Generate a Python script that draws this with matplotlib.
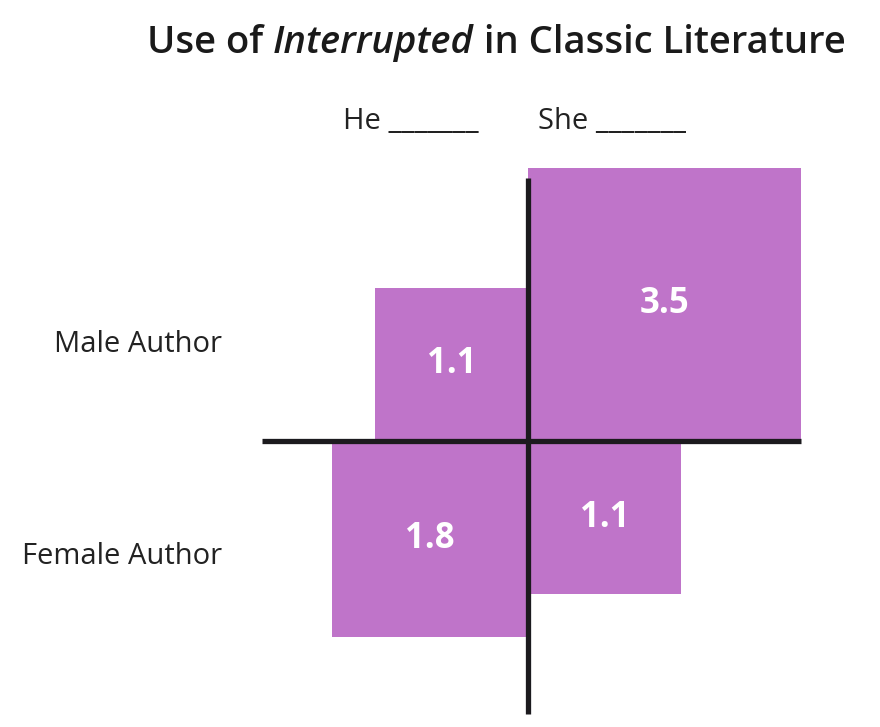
import numpy as np
import matplotlib
matplotlib.use("Agg")
from matplotlib import pyplot as plt
from matplotlib.patches import Rectangle

# data
rows = ["Male Author", "Female Author"]
cols = ["He", "She"]
values = [[1.1, 3.5],
          [1.8, 1.1]]

purple = "#bf74c9"
ink = "#1c1a1e"
plt.rcParams["font.family"] = ["Open Sans", "DejaVu Sans"]

W, H = 880, 727
fig = plt.figure(figsize=(W / 100, H / 100), dpi=100)
ax = fig.add_axes([0, 0, 1, 1])

# pixel layout: cross centre and pixels per sqrt-unit
cx, cy = 528, 441
k = 146.0
ax.set_xlim(-cx / k, (W - cx) / k)
ax.set_ylim(-(H - cy) / k, cy / k)
ax.axis("off")

for i, r in enumerate(rows):
    for j, c in enumerate(cols):
        s = np.sqrt(values[i][j])
        x0 = -s if j == 0 else 0
        y0 = 0 if i == 0 else -s
        ax.add_patch(Rectangle((x0, y0), s, s, facecolor=purple, edgecolor="none", zorder=1))
        ax.text(x0 + s / 2, y0 + s / 2, f"{values[i][j]:.1f}", color="white",
                fontsize=25, fontweight="bold", ha="center", va="center", zorder=3)

# cross
smax = np.sqrt(max(max(v) for v in values))
ax.plot([-(cx - 262) / k, smax], [0, 0], color=ink, lw=3.8, zorder=2,
        solid_capstyle="butt")
ax.plot([0, 0], [-(714 - cy) / k, (cy - 178) / k], color=ink, lw=3.8, zorder=2,
        solid_capstyle="butt")

# row labels
ax.text((222 - cx) / k, (cy - 345) / k, rows[0], fontsize=21, color="#222222",
        ha="right", va="center")
ax.text((222 - cx) / k, (cy - 556) / k, rows[1], fontsize=21, color="#222222",
        ha="right", va="center")

# column labels
ax.text((343 - cx) / k, (cy - 122) / k, cols[0] + " _______", fontsize=21,
        color="#222222", ha="left", va="center")
ax.text((538 - cx) / k, (cy - 122) / k, cols[1] + " _______", fontsize=21,
        color="#222222", ha="left", va="center")

# title with italic word, laid out piece by piece
parts = [("Use of ", "normal"), ("Interrupted", "italic"), (" in Classic Literature", "normal")]
renderer = fig.canvas.get_renderer()
x = 147
for txt, st in parts:
    t = fig.text(x / W, 1 - 53 / H, txt, fontsize=27.5, fontstyle=st, fontweight="semibold",
                 color="#1a1a1a", ha="left", va="baseline")
    bb = t.get_window_extent(renderer=renderer)
    x += bb.width

fig.savefig("out.png", dpi=100, facecolor="white")
